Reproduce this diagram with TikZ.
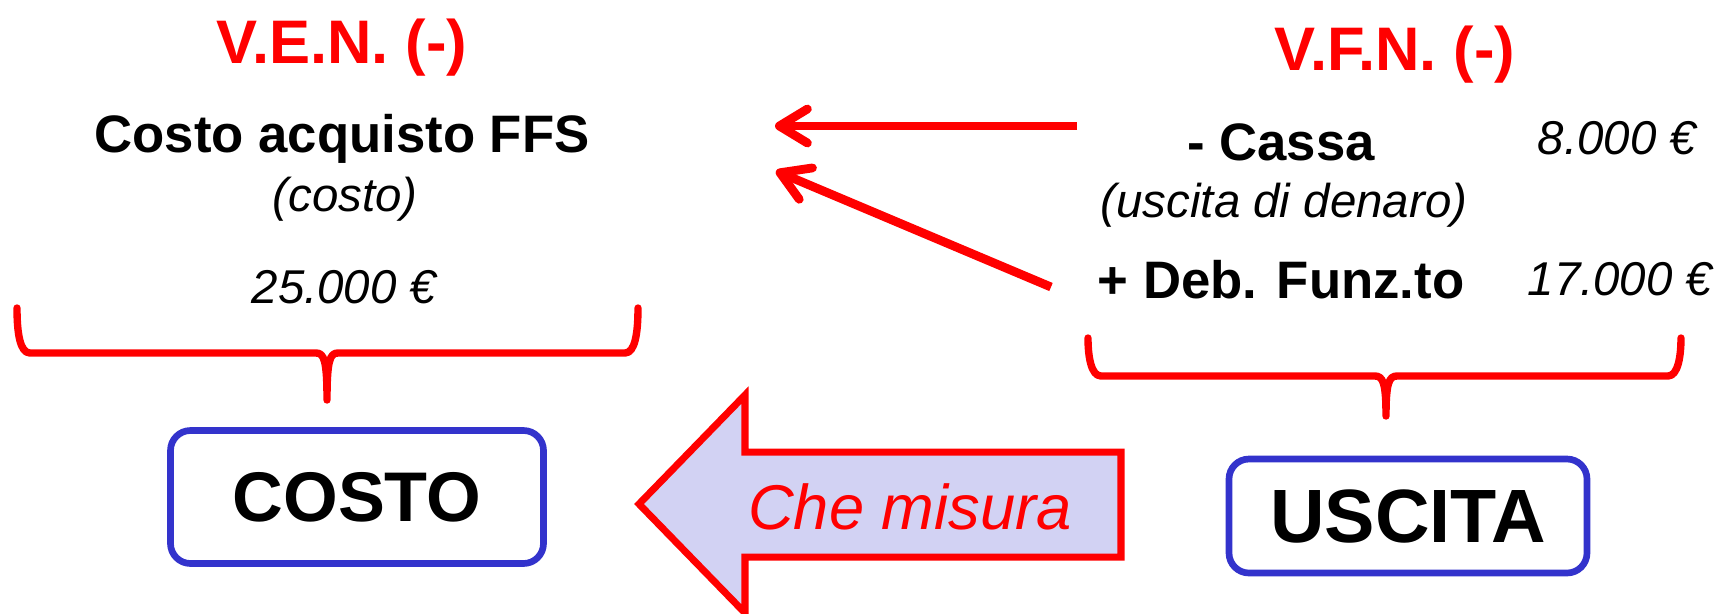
\documentclass[tikz,border=0pt]{standalone}
\usepackage{fontspec}
\setmainfont{Liberation Sans}
\usetikzlibrary{arrows.meta}

\definecolor{boxblue}{RGB}{51,51,204}
\definecolor{lavender}{RGB}{210,210,243}

\begin{document}
\begin{tikzpicture}
  [x=0.1mm,y=-0.1mm,
   every node/.style={inner sep=0pt,anchor=base},
   title/.style={text=red,font=\fontsize{17.5}{20}\selectfont\bfseries},
   voce/.style={font=\fontsize{15}{18}\selectfont\bfseries},
   nota/.style={font=\fontsize{13.5}{16}\selectfont\itshape},
   esito/.style={draw=boxblue,line width=1.9pt,rounded corners=2mm,anchor=center,font=\fontsize{20}{24}\selectfont\bfseries},
   link/.style={red,line width=2.5pt,-{Straight Barb[length=2.8mm,width=3.4mm,round]}},
   graffa/.style={red,line width=2.1pt,line cap=round,line join=round}]
  \useasboundingbox (0,0) rectangle (1718,613);

  \node [title] (ven) at (342,63) {V.E.N. (-)};
  \node [voce] (ffs) at (342,152) {Costo acquisto FFS};
  \node [nota] (costolab) at (345,211) {(costo)};
  \node [nota] (v1) at (344,303) {25.000 €};

  \node [title] (vfn) at (1395,70) {V.F.N. (-)};
  \node [voce] (cassa) at (1281,160) {- Cassa};
  \node [nota] (v2) at (1617,154) {8.000 €};
  \node [nota] (uscitalab) at (1284,217) {(uscita di denaro)};
  \node [voce] (deb) at (1281,298) {+ Deb. Funz.to};
  \node [nota] (v3) at (1620,295) {17.000 €};

  \foreach \l/\m/\r/\t/\h/\b in {17/327/638/308/353/400,1088/1386/1681/338/376/416}
    \draw [graffa] (\l,\t) .. controls (\l,\h-20) and (\l+3,\h) .. (\l+13,\h) -- (\m-11,\h)
      .. controls (\m-3,\h) and (\m,\h+7) .. (\m,\b) .. controls (\m,\h+7) and (\m+3,\h) .. (\m+11,\h)
      -- (\r-13,\h) .. controls (\r-3,\h) and (\r,\h-20) .. (\r,\t);

  \node [esito,minimum width=37.3mm,minimum height=13.3mm] (costo) at (357,497) {COSTO};
  \node [esito,minimum width=35.8mm,minimum height=11.4mm,font=\fontsize{21.5}{25}\selectfont\bfseries] (uscita) at (1408,516) {USCITA};

  \draw [red,line width=2pt,fill=lavender] (1121,452) -- (745,452) -- (745,395) -- (639,504)
    -- (745,613) -- (745,557) -- (1121,557) -- cycle;
  \node [text=red,font=\fontsize{18}{21}\selectfont\itshape] (misura) at (910,529) {Che misura};

  \coordinate (c1) at (1077,126);
  \coordinate (t1) at (775,126);
  \coordinate (c2) at (1051,287);
  \coordinate (t2) at (776,171);
  \foreach \from/\to in {c1/t1,c2/t2}
    \draw [link] (\from) -- (\to);

\end{tikzpicture}
\end{document}
